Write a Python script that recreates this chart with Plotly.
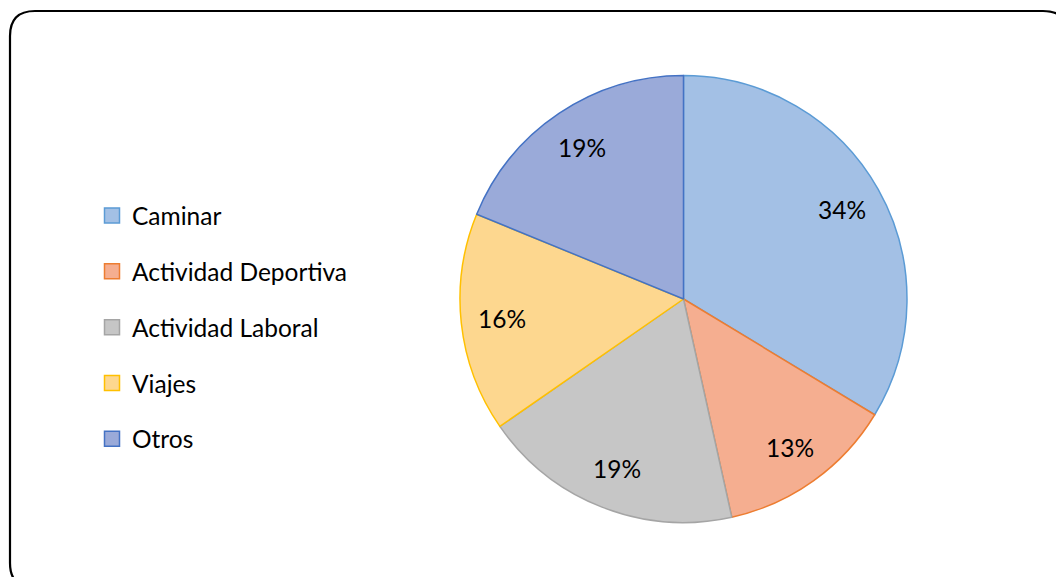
import numpy as np
import plotly.graph_objects as go

# Motivo de desplazamiento (porcentaje de respuestas)
categories = ["Caminar", "Actividad Deportiva", "Actividad Laboral", "Viajes", "Otros"]
shares = [34, 13, 19, 16, 19]

fill_colors = ["#a3c0e5", "#f5ae90", "#c6c6c6", "#fdd78f", "#9aaad9"]
edge_colors = ["#5b9bd5", "#ed7d31", "#a5a5a5", "#ffc000", "#4472c4"]

W, H = 1056, 577
CX, CY, R = 683.5, 299.0, 223.5  # pie centre and radius, in pixels
FONT = "Lato"


def px(x):
    return x / W


def py(y):
    return 1 - y / H


fig = go.Figure()

fig.add_trace(go.Pie(
    labels=categories,
    values=shares,
    sort=False,
    direction="clockwise",
    rotation=0,
    textinfo="none",
    hoverinfo="label+percent",
    showlegend=False,
    marker=dict(colors=fill_colors, line=dict(color=edge_colors, width=1.5)),
    domain=dict(x=[px(CX - R), px(CX + R)], y=[py(CY + R), py(CY - R)]),
))

# percentage labels placed along each slice's mid-angle
total = float(sum(shares))
starts = np.cumsum([0] + shares[:-1])
for v, s0 in zip(shares, starts):
    theta = 2 * np.pi * (s0 + v / 2) / total
    lx = CX + 0.815 * R * np.sin(theta)
    ly = CY - 0.815 * R * np.cos(theta)
    fig.add_annotation(
        x=px(lx), y=py(ly), xref="paper", yref="paper",
        xanchor="center", yanchor="middle",
        text=f"{v}%", showarrow=False,
        font=dict(family=FONT, size=24.5, color="#000000"),
    )

# legend entries
for name, fc, ec in zip(categories, fill_colors, edge_colors):
    fig.add_trace(go.Scatter(
        x=[None], y=[None], mode="markers", name=name, legendgroup=name,
        marker=dict(symbol="square", size=15, color=fc, line=dict(color=ec, width=1.5)),
        showlegend=True,
    ))

# rounded frame around the chart
x0, y0, x1, y1, rad = 10, 11, 1068, 588, 25
rx, ry = rad / W, rad / H
X0, X1 = px(x0), px(x1)
Y0, Y1 = py(y0), py(y1)  # Y0 is top
frame = (
    f"M {X0 + rx},{Y0} L {X1 - rx},{Y0} Q {X1},{Y0} {X1},{Y0 - ry} "
    f"L {X1},{Y1 + ry} Q {X1},{Y1} {X1 - rx},{Y1} "
    f"L {X0 + rx},{Y1} Q {X0},{Y1} {X0},{Y1 + ry} "
    f"L {X0},{Y0 - ry} Q {X0},{Y0} {X0 + rx},{Y0} Z"
)
fig.add_shape(type="path", path=frame, xref="paper", yref="paper",
              line=dict(color="#000000", width=2.2), layer="above")

fig.update_layout(
    width=W, height=H,
    margin=dict(l=0, r=0, t=0, b=0),
    paper_bgcolor="#ffffff",
    plot_bgcolor="rgba(0,0,0,0)",
    xaxis=dict(visible=False),
    yaxis=dict(visible=False),
    showlegend=True,
    legend=dict(
        x=px(92), y=py(193), xanchor="left", yanchor="top",
        font=dict(family=FONT, size=24.5, color="#000000"),
        tracegroupgap=21,
        bgcolor="rgba(0,0,0,0)",
        itemclick=False, itemdoubleclick=False,
    ),
)

fig.write_html("out.html")
